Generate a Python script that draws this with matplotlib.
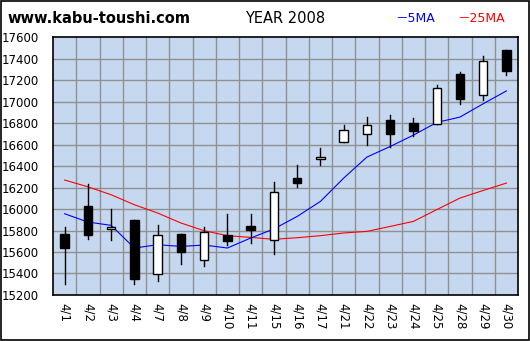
import numpy as np
import matplotlib
matplotlib.use("Agg")
import matplotlib.pyplot as plt
from matplotlib.patches import Rectangle

# ===============================
# データ (2008年4月)
# ===============================
dates = ["4/1", "4/2", "4/3", "4/4", "4/7", "4/8", "4/9", "4/10", "4/11", "4/15",
         "4/16", "4/17", "4/21", "4/22", "4/23", "4/24", "4/25", "4/28", "4/29", "4/30"]
opens = [15770, 16031, 15814, 15900, 15395, 15770, 15526, 15758, 15845, 15708,
         16288, 16462, 16623, 16698, 16831, 16800, 16787, 17259, 17060, 17482]
closes = [15634, 15754, 15833, 15345, 15761, 15597, 15789, 15699, 15808, 16158,
          16247, 16484, 16735, 16781, 16703, 16731, 17126, 17020, 17377, 17289]
highs = [15833, 16235, 16003, 15900, 15854, 15770, 15833, 15956, 15956, 16254,
         16412, 16570, 16784, 16859, 16877, 16849, 17156, 17277, 17426, 17482]
lows = [15305, 15724, 15708, 15305, 15327, 15485, 15466, 15662, 15680, 15578,
        16201, 16406, 16623, 16598, 16582, 16682, 16787, 16980, 17017, 17252]
ma5 = [15956, 15879, 15848, 15637, 15668, 15652, 15665, 15637, 15730, 15815,
       15931, 16071, 16288, 16484, 16582, 16688, 16806, 16856, 16980, 17100]
ma25 = [16270, 16207, 16133, 16040, 15963, 15870, 15798, 15752, 15736, 15718,
        15733, 15752, 15777, 15792, 15838, 15885, 15994, 16102, 16173, 16242]
yticks = list(range(15200, 17601, 200))

# ===============================
# プロット
# ===============================
fig = plt.figure(figsize=(5.3, 3.41), dpi=100)
fig.patch.set_facecolor("white")
ax = fig.add_axes([0.1, 0.135, 0.8775, 0.756])
ax.set_facecolor("#c6d8f0")

n = len(dates)
x = np.arange(n)
bw = 0.36

# 移動平均線
ax.plot(x, ma25, color="red", lw=0.8, zorder=3)
ax.plot(x, ma5, color="blue", lw=0.8, zorder=3)

# ローソク足
for i in range(n):
    o, c, h, l = opens[i], closes[i], highs[i], lows[i]
    ax.plot([x[i], x[i]], [l, h], color="black", lw=1.0, zorder=4)
    fc = "white" if c >= o else "black"
    ax.add_patch(Rectangle((x[i] - bw / 2, min(o, c)), bw, max(abs(c - o), 6),
                           facecolor=fc, edgecolor="black", lw=1.0, zorder=5))

ax.set_xlim(-0.5, n - 0.5)
ax.set_ylim(15200, 17600)

# 目盛り
ax.set_yticks(yticks)
ax.set_yticklabels([str(v) for v in yticks], fontsize=8.5)
ax.set_xticks(x)
ax.set_xticklabels(dates, rotation=-90, fontsize=8.5, va="top")
ax.tick_params(axis="both", which="both", length=0)
ax.tick_params(axis="x", which="major", pad=6)
ax.tick_params(axis="y", pad=10)

# グリッド
ax.grid(False)
for xv in np.arange(0.5, n - 0.5, 1):
    ax.axvline(xv, color="#909090", lw=1.0, zorder=1)
for yv in yticks[1:-1]:
    ax.axhline(yv, color="#909090", lw=1.0, zorder=1)

for spine in ax.spines.values():
    spine.set_linewidth(1.2)
    spine.set_color("black")

# タイトル・凡例
fams = ["DejaVu Sans", "Noto Sans CJK JP"]
fig.text(0.015, 0.945, "www.kabu-toushi.com", fontsize=10.5, fontweight="bold", va="center")
fig.text(0.537, 0.945, "YEAR 2008", fontsize=10.5, ha="center", va="center")
fig.text(0.745, 0.945, "－5MA", fontsize=9, color="blue", va="center", family=fams)
fig.text(0.862, 0.945, "－25MA", fontsize=9, color="red", va="center", family=fams)

# 外枠
fig.add_artist(Rectangle((0.002, 0.003), 0.996, 0.994, transform=fig.transFigure,
                         fill=False, edgecolor="black", lw=1.2))

fig.savefig("out.png", dpi=100)
